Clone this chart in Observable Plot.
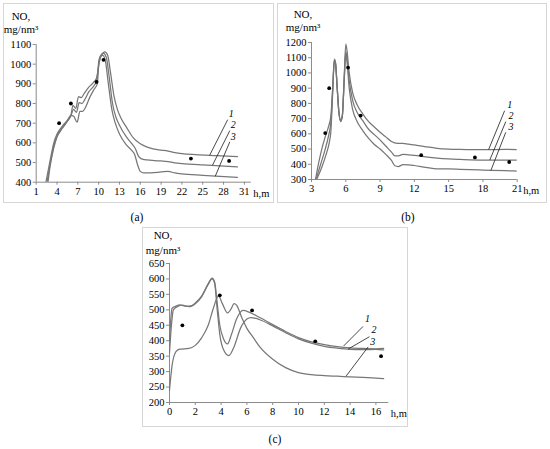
<!DOCTYPE html>
<html><head><meta charset="utf-8">
<script src="https://cdn.jsdelivr.net/npm/d3@7"></script>
<script src="https://cdn.jsdelivr.net/npm/@observablehq/plot@0.6"></script>
<style>
body{margin:0;background:#fff;}
#wrap{position:relative;width:550px;height:449px;font-family:"Liberation Serif","Times New Roman",serif;color:#000;overflow:hidden;}
.frame{position:absolute;border:1px solid #d6d6d6;box-sizing:border-box;}
.txt{position:absolute;transform:translate(-50%,-50%);line-height:1;white-space:nowrap;font-size:11px;}
</style></head><body><div id="wrap"></div>
<script>
// ---------- Panel (a) ----------
const aXTicks = [1,4,7,10,13,16,19,22,25,28,31];
const aYTicks = [400,500,600,700,800,900,1000,1100];
const aCurve1 = [[2.7,400],[3,480],[3.5,570],[4,630],[4.5,660],[5,685],[5.5,710],[6,740],[6.3,790],[6.7,775],[7.1,835],[7.5,830],[7.9,850],[8.5,880],[9.2,905],[9.7,930],[10.1,1010],[10.4,1045],[10.9,1062],[11.3,1045],[11.7,960],[12.2,840],[12.7,770],[13.3,720],[14,680],[15,625],[16,595],[17,578],[18,568],[19,563],[20,558],[21,550],[22,545],[24,540],[27,535],[30,530]];
const aCurve2 = [[2.55,400],[3,490],[3.5,580],[4,635],[4.5,665],[5,690],[5.5,712],[6,738],[6.4,770],[6.8,755],[7.2,805],[7.6,800],[8,820],[8.6,860],[9.2,885],[9.7,915],[10.05,1020],[10.3,1045],[10.7,1055],[11.1,1035],[11.5,940],[12,800],[12.5,730],[13,690],[14,630],[14.8,595],[15.3,570],[15.7,535],[16.1,520],[17,513],[18,510],[19,508],[20,505],[21,498],[22,495],[25,488],[30,478]];
const aCurve3 = [[2.4,400],[3,510],[3.5,595],[4,645],[4.5,672],[5,695],[5.5,715],[6,740],[6.4,735],[6.9,705],[7.3,760],[7.7,760],[8.1,780],[8.7,830],[9.3,870],[9.8,900],[10.05,1010],[10.3,1040],[10.6,1045],[11,1010],[11.4,900],[11.9,770],[12.4,700],[13,645],[14,590],[14.8,560],[15.2,540],[15.6,490],[16,455],[16.5,448],[17.5,448],[19,452],[20,455],[21,447],[22,442],[25,435],[30,425]];
const aDotX = [4.3,6.0,9.7,10.7,23.3,28.8];
const aDotY = [700,800,910,1022,520,508];
const aLabels = ["1","2","3"];
const aLabelX = [29.1,29.4,29.4];
const aLabelY = [748,690,632];
const aLeadFrom = [[28.6,718],[28.9,662],[28.9,605]];
const aLeadTo = [[26.0,537],[26.4,486],[26.8,430]];

// ---------- Panel (b) ----------
const bXTicks = [3,6,9,12,15,18,21];
const bYTicks = [300,400,500,600,700,800,900,1000,1100,1200];
const bCurve1 = [[3.35,300],[3.6,400],[3.9,500],[4.2,580],[4.5,650],[4.7,720],[4.85,900],[5.0,1090],[5.1,1070],[5.25,900],[5.4,740],[5.55,680],[5.7,720],[5.85,950],[6.0,1190],[6.1,1150],[6.3,1000],[6.6,870],[7,790],[7.5,730],[8,680],[8.5,645],[9,610],[9.5,580],[10,550],[10.5,538],[11,538],[11.5,532],[12,527],[13,515],[14,505],[15,500],[16,498],[18,496],[20,498],[21,497]];
const bCurve2 = [[3.4,300],[3.8,400],[4.2,500],[4.5,590],[4.7,680],[4.85,880],[5.0,1085],[5.1,1065],[5.25,900],[5.4,740],[5.55,685],[5.7,720],[5.85,940],[6.0,1140],[6.1,1100],[6.3,950],[6.6,820],[7,740],[7.5,685],[8,630],[8.5,595],[9,560],[9.5,520],[10,480],[10.3,455],[10.6,455],[11,465],[11.5,462],[12,458],[13,448],[14,440],[15,435],[16,432],[18,428],[20,428],[21,428]];
const bCurve3 = [[3.45,300],[3.9,380],[4.3,470],[4.55,540],[4.7,620],[4.85,860],[5.0,1080],[5.1,1060],[5.25,900],[5.4,740],[5.55,690],[5.7,720],[5.85,930],[6.0,1130],[6.1,1080],[6.3,900],[6.6,760],[7,680],[7.5,620],[8,570],[8.5,530],[9,500],[9.5,465],[10,425],[10.3,390],[10.6,385],[11,397],[11.5,396],[12,392],[13,380],[14,370],[15,370],[16,367],[18,362],[20,358],[21,355]];
const bDotX = [4.2,4.55,6.2,7.3,12.6,17.3,20.3];
const bDotY = [605,900,1035,720,460,445,415];
const bLabels = ["1","2","3"];
const bLabelX = [20.35,20.45,20.45];
const bLabelY = [790,718,646];
const bLeadFrom = [[19.9,752],[20.0,680],[20.0,610]];
const bLeadTo = [[18.5,497],[18.6,428],[18.7,360]];

// ---------- Panel (c) ----------
const cXTicks = [0,2,4,6,8,10,12,14,16];
const cYTicks = [200,250,300,350,400,450,500,550,600,650];
const cCurve1 = [[0,400],[0.1,470],[0.2,505],[0.5,512],[0.8,516],[1.2,512],[1.6,512],[2,522],[2.5,545],[3,585],[3.3,603],[3.5,590],[3.7,520],[3.9,450],[4.2,405],[4.5,390],[4.8,420],[5.2,470],[5.7,498],[6.2,492],[7,475],[8,452],[9,430],[10,410],[11,396],[12,387],[13,381],[14,377],[15,375],[16,374],[16.6,375]];
const cCurve2 = [[0,360],[0.15,450],[0.3,500],[0.6,510],[1,515],[1.5,510],[2,520],[2.5,543],[3,582],[3.3,600],[3.5,585],[3.7,500],[3.9,420],[4.2,370],[4.6,352],[5,380],[5.5,440],[6,470],[6.3,475],[7,468],[8,448],[9,426],[10,406],[11,392],[12,382],[13,376],[14,372],[15,371],[16,372],[16.6,370]];
const cCurve3 = [[0,240],[0.2,320],[0.5,365],[0.8,373],[1.5,375],[2,385],[2.5,410],[3,450],[3.4,505],[3.8,545],[4.1,520],[4.5,490],[4.8,505],[5,520],[5.2,515],[5.6,475],[6,440],[6.5,410],[7,380],[8,340],[9,313],[10,297],[11,290],[12,287],[13,285],[14,283],[15,281],[16,279],[16.6,277]];
const cDotX = [1.0,3.9,6.4,11.3,16.4];
const cDotY = [450,547,498,398,350];
const cLabels = ["1","2","3"];
const cLabelX = [15.35,15.85,15.75];
const cLabelY = [470,434,398];
const cLeadFrom = [[15.0,446],[15.5,413],[15.4,380]];
const cLeadTo = [[13.5,383],[13.85,373],[13.7,286]];

const wrap = document.getElementById("wrap");

function addText(str, x, y, size) {
  const d = document.createElement("div");
  d.className = "txt";
  d.textContent = str;
  d.style.left = x + "px";
  d.style.top = y + "px";
  if (size) d.style.fontSize = size + "px";
  wrap.appendChild(d);
}
function addFrame(l, t, w, h) {
  const d = document.createElement("div");
  d.className = "frame";
  Object.assign(d.style, {left: l + "px", top: t + "px", width: w + "px", height: h + "px"});
  wrap.appendChild(d);
}

function panel(cfg) {
  const lines = [];
  cfg.curves.forEach((c, i) => c.forEach(([x, y]) => lines.push({x, y, s: i})));
  const dots = cfg.dotX.map((x, i) => ({x, y: cfg.dotY[i]}));
  const labels = cfg.labels.map((t, i) => ({t, x: cfg.labelX[i], y: cfg.labelY[i]}));
  const leads = cfg.leadFrom.map((f, i) => ({x1: f[0], y1: f[1], x2: cfg.leadTo[i][0], y2: cfg.leadTo[i][1]}));
  const [x0, x1] = cfg.xDomain, [y0] = cfg.yDomain;
  const svg = Plot.plot({
    width: cfg.w, height: cfg.h,
    marginLeft: cfg.ml, marginRight: cfg.mr, marginTop: cfg.mt, marginBottom: cfg.mb,
    style: {fontFamily: '"Liberation Serif","Times New Roman",serif', fontSize: "10.5px", background: "transparent", color: "#000", overflow: "visible"},
    x: {domain: cfg.xDomain},
    y: {domain: cfg.yDomain},
    marks: [
      Plot.ruleY([y0], {stroke: "#8c8c8c", strokeWidth: 1}),
      Plot.ruleX([x0], {stroke: "#8c8c8c", strokeWidth: 1}),
      Plot.axisX({ticks: cfg.xTicks, tickSize: 3, tickPadding: 2, tickFormat: d => String(d), stroke: "#8c8c8c", fill: "#000", label: null}),
      Plot.axisY({ticks: cfg.yTicks, tickSize: 3, tickPadding: 2, tickFormat: d => String(d), stroke: "#8c8c8c", fill: "#000", label: null}),
      Plot.line(lines, {x: "x", y: "y", z: "s", stroke: "#777", strokeWidth: 1.25, curve: "monotone-x", clip: true}),
      Plot.link(leads, {x1: "x1", y1: "y1", x2: "x2", y2: "y2", stroke: "#1a1a1a", strokeWidth: 0.8}),
      Plot.dot(dots, {x: "x", y: "y", r: 1.9, fill: "#000", stroke: null}),
      Plot.text(labels, {x: "x", y: "y", text: "t", fontStyle: "italic", fontSize: 10, fill: "#000"}),
      Plot.text(["h,m"], {x: x1, y: y0, dx: cfg.hmDx, dy: cfg.hmDy, textAnchor: "start", fill: "#000", fontSize: 10.5})
    ]
  });
  svg.style.position = "absolute";
  svg.style.left = cfg.left + "px";
  svg.style.top = cfg.top + "px";
  wrap.appendChild(svg);
}

// Frames
addFrame(3, 3, 271, 200);
addFrame(277, 3, 270, 200);
addFrame(142, 227, 266, 200);

panel({left: 3, top: 3, w: 271, h: 200, ml: 32.7, mr: 23.2, mt: 41, mb: 21.3,
  xDomain: [1, 32], yDomain: [400, 1100], xTicks: aXTicks, yTicks: aYTicks,
  curves: [aCurve1, aCurve2, aCurve3], dotX: aDotX, dotY: aDotY,
  labels: aLabels, labelX: aLabelX, labelY: aLabelY, leadFrom: aLeadFrom, leadTo: aLeadTo,
  hmDx: 2, hmDy: 11.5});
panel({left: 277, top: 3, w: 270, h: 200, ml: 34, mr: 30.3, mt: 39, mb: 24,
  xDomain: [3, 21], yDomain: [300, 1200], xTicks: bXTicks, yTicks: bYTicks,
  curves: [bCurve1, bCurve2, bCurve3], dotX: bDotX, dotY: bDotY,
  labels: bLabels, labelX: bLabelX, labelY: bLabelY, leadFrom: bLeadFrom, leadTo: bLeadTo,
  hmDx: 6, hmDy: 11.5});
panel({left: 142, top: 227, w: 266, h: 200, ml: 27, mr: 19.7, mt: 36, mb: 25,
  xDomain: [0, 17], yDomain: [200, 650], xTicks: cXTicks, yTicks: cYTicks,
  curves: [cCurve1, cCurve2, cCurve3], dotX: cDotX, dotY: cDotY,
  labels: cLabels, labelX: cLabelX, labelY: cLabelY, leadFrom: cLeadFrom, leadTo: cLeadTo,
  hmDx: 2, hmDy: 11.5});

// Axis titles
addText("NO,", 21, 16);
addText("mg/nm³", 21, 28.5);
addText("NO,", 303, 14);
addText("mg/nm³", 303, 26.5);
addText("NO,", 163, 235);
addText("mg/nm³", 163, 250);

// Captions
addText("(a)", 137, 218, 11.5);
addText("(b)", 408, 218, 11.5);
addText("(c)", 275, 440, 11.5);
</script></body></html>
